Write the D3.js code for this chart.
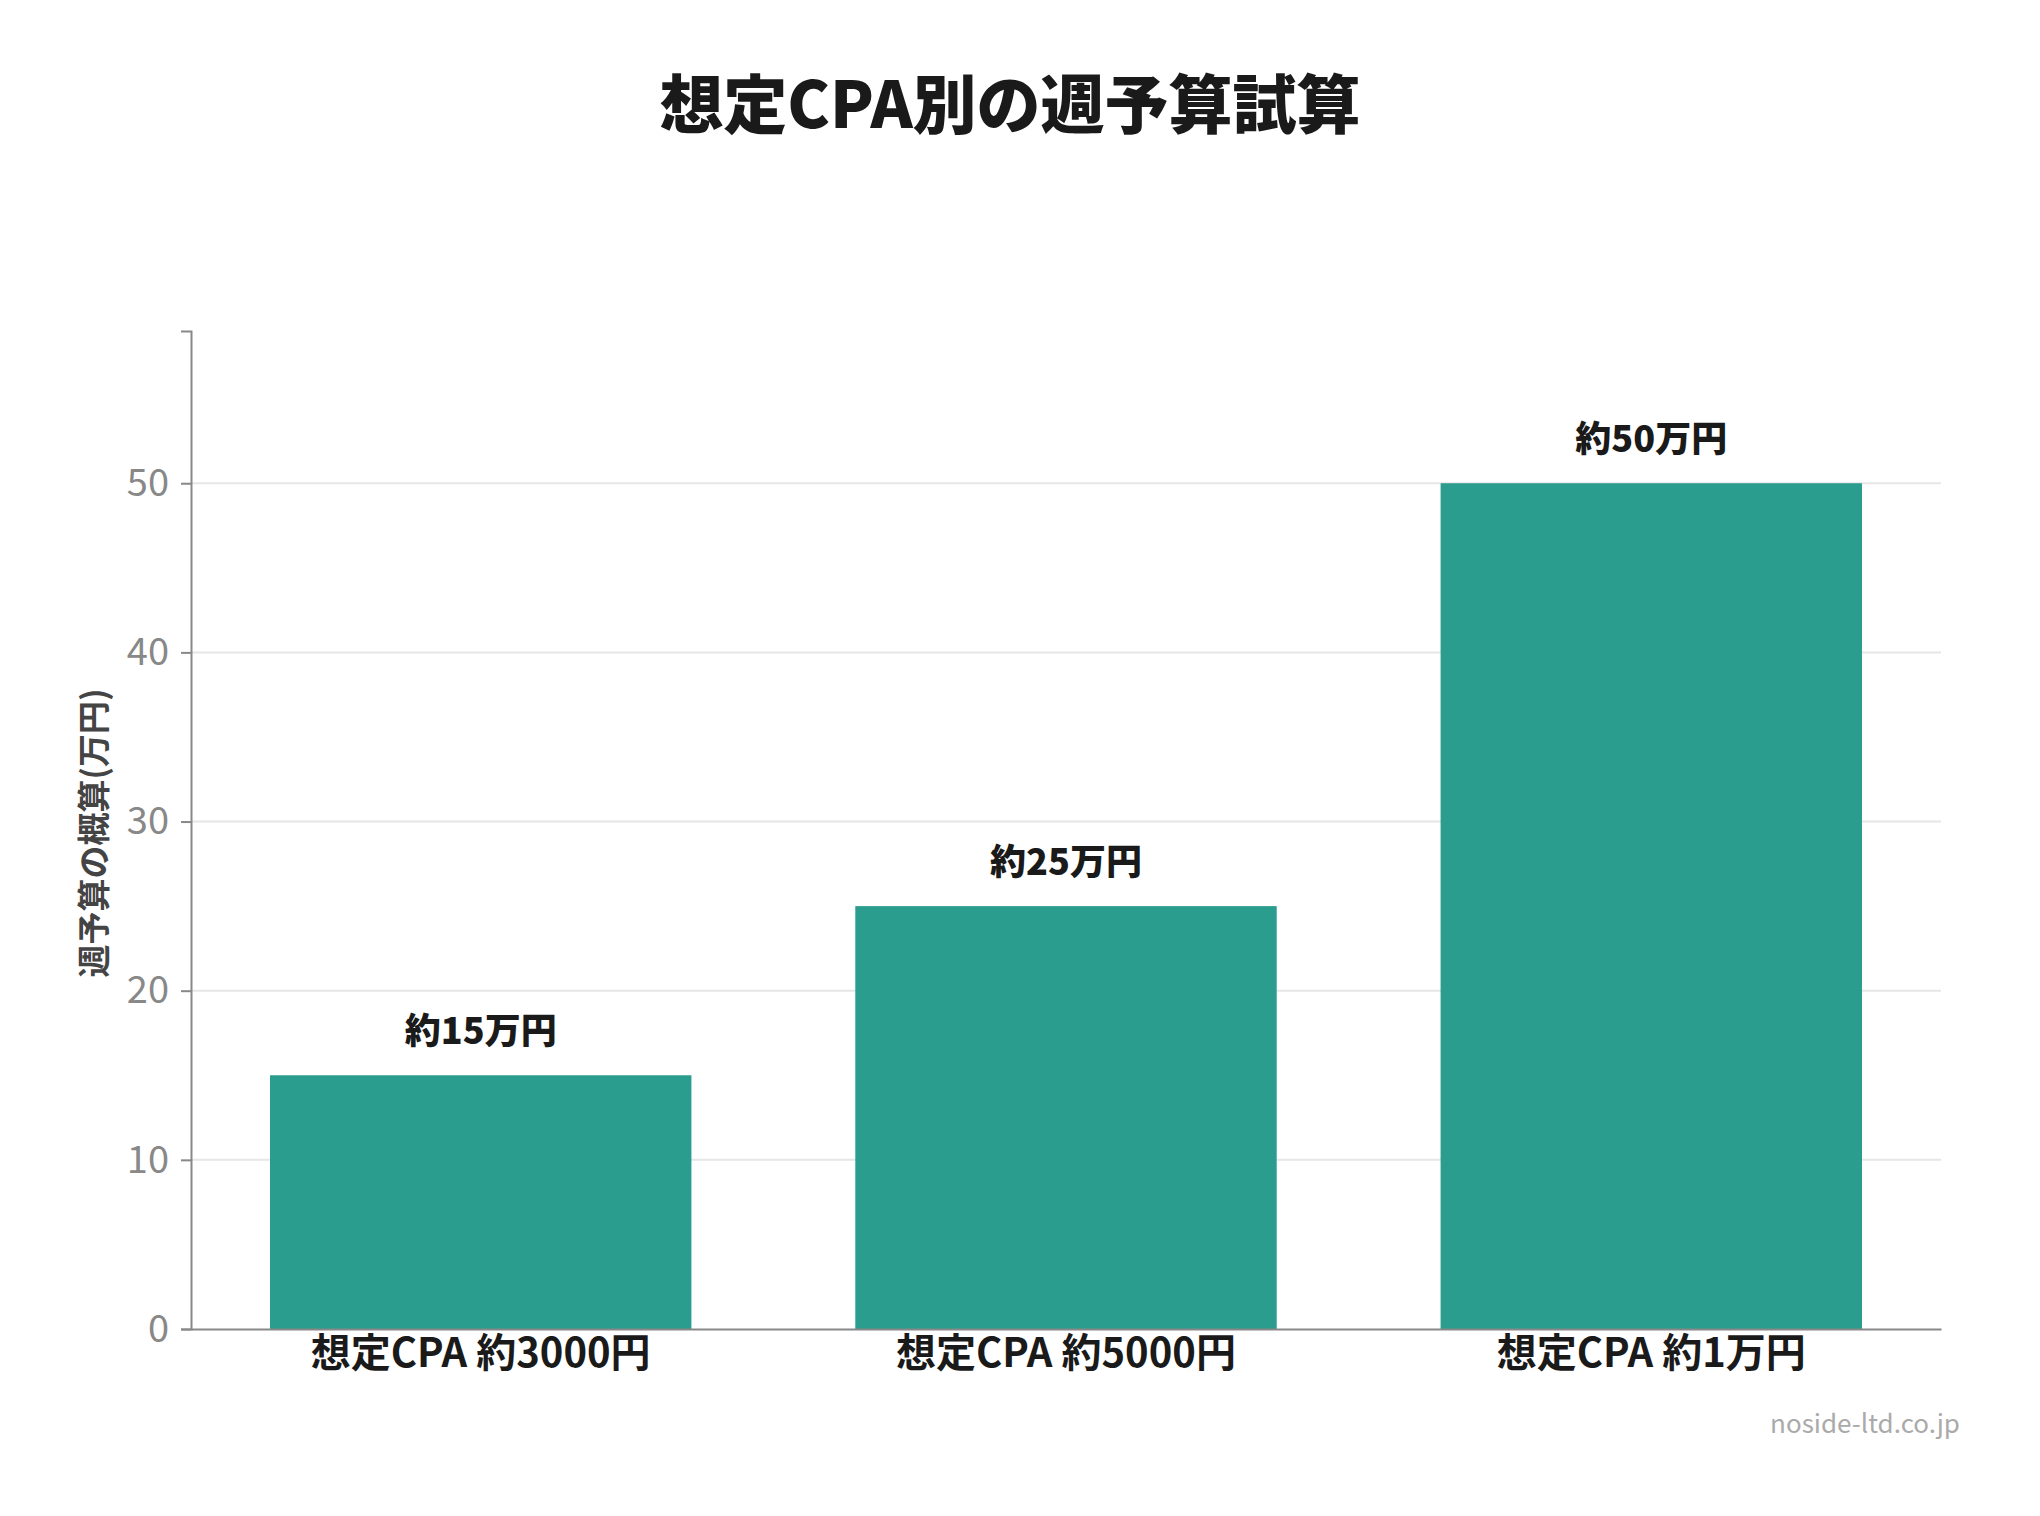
<!DOCTYPE html>
<html>
<head>
<meta charset="utf-8">
<script src="https://cdn.jsdelivr.net/npm/d3@7"></script>
<style>
  body { margin: 0; background: #fff; }
  text { font-family: "Noto Sans CJK JP", "Noto Sans", sans-serif; }
</style>
</head>
<body>
<div id="chart"></div>
<script>
const categories = ["想定CPA 約3000円", "想定CPA 約5000円", "想定CPA 約1万円"];
const values = [15, 25, 50];
const valueLabels = ["約15万円", "約25万円", "約50万円"];
const yTicks = [0, 10, 20, 30, 40, 50];

const width = 2040, height = 1516;
const margin = {top: 331, right: 99, bottom: 187, left: 191};

const svg = d3.select("#chart").append("svg")
  .attr("width", width)
  .attr("height", height);

const innerW = width - margin.left - margin.right;
const innerH = height - margin.top - margin.bottom;

const x = d3.scaleBand().domain(categories).range([0, innerW]).paddingInner(0.28).paddingOuter(0.135);
const y = d3.scaleLinear().domain([0, 59]).range([innerH, 0]);

svg.append("text")
  .attr("x", 1010)
  .attr("y", 128)
  .attr("text-anchor", "middle")
  .attr("font-size", 64)
  .attr("font-weight", 900)
  .attr("fill", "#1a1a1a")
  .text("想定CPA別の週予算試算");

const g = svg.append("g").attr("transform", "translate(" + margin.left + "," + margin.top + ")");

// grid
g.selectAll(".grid")
  .data(yTicks.filter(d => d > 0))
  .enter().append("line")
  .attr("x1", 0).attr("x2", innerW)
  .attr("y1", d => y(d)).attr("y2", d => y(d))
  .attr("stroke", "#e6e6e6")
  .attr("stroke-width", 2);

g.selectAll(".bar")
  .data(values)
  .enter().append("rect")
  .attr("x", (d, i) => x(categories[i]))
  .attr("y", d => y(d))
  .attr("width", x.bandwidth())
  .attr("height", d => innerH - y(d))
  .attr("fill", "#2a9d8f");

g.selectAll(".vlabel")
  .data(values)
  .enter().append("text")
  .attr("x", (d, i) => x(categories[i]) + x.bandwidth() / 2)
  .attr("y", d => y(d) - 31)
  .attr("text-anchor", "middle")
  .attr("font-size", 36)
  .attr("font-weight", 900)
  .attr("fill", "#1a1a1a")
  .text((d, i) => valueLabels[i]);

const yAxis = g.append("g").call(d3.axisLeft(y).tickValues(yTicks).tickSize(10).tickPadding(12));
yAxis.select(".domain").attr("stroke", "#888").attr("stroke-width", 2);
yAxis.selectAll(".tick line").attr("stroke", "#888").attr("stroke-width", 2);
yAxis.selectAll(".tick text")
  .attr("font-size", 38)
  .attr("font-weight", 400)
  .attr("fill", "#888")
  .attr("font-family", "Roboto, sans-serif");

const xAxis = g.append("g").attr("transform", "translate(0," + innerH + ")")
  .call(d3.axisBottom(x).tickSize(0).tickPadding(10));
xAxis.select(".domain").attr("stroke", "#888").attr("stroke-width", 2);
xAxis.selectAll(".tick text")
  .attr("font-size", 40)
  .attr("font-weight", 700)
  .attr("fill", "#1a1a1a")
  .attr("font-family", "\"Noto Sans CJK JP\", sans-serif");

svg.append("text")
  .attr("transform", "translate(106,833) rotate(-90)")
  .attr("text-anchor", "middle")
  .attr("font-size", 33)
  .attr("font-weight", 700)
  .attr("fill", "#444")
  .text("週予算の概算(万円)");

svg.append("text")
  .attr("x", 1960)
  .attr("y", 1433)
  .attr("text-anchor", "end")
  .attr("font-size", 26)
  .attr("fill", "#aaa")
  .attr("font-family", "Roboto, sans-serif")
  .text("noside-ltd.co.jp");
</script>
</body>
</html>
